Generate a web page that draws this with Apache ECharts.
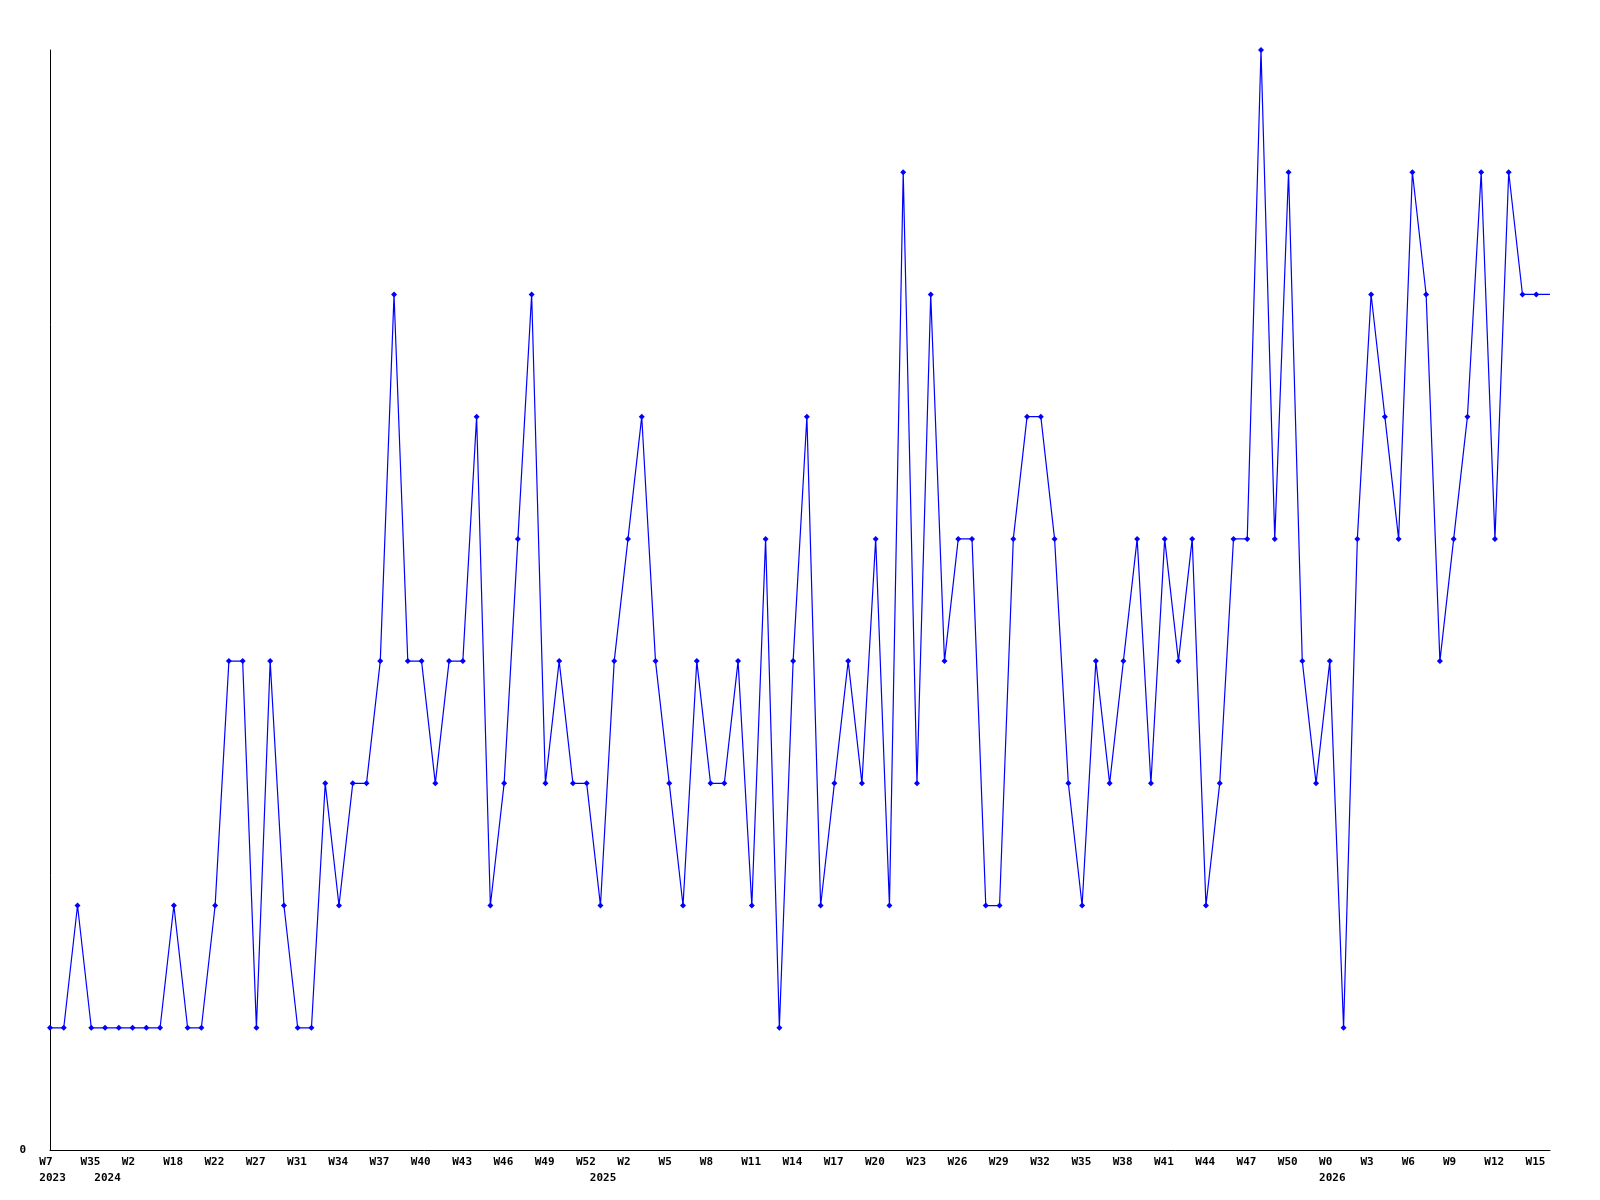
<!DOCTYPE html>
<html>
<head>
<meta charset="utf-8">
<script src="https://cdn.jsdelivr.net/npm/echarts@6/dist/echarts.min.js"></script>
<style>
  html, body { margin: 0; padding: 0; background: #ffffff; }
  #chart { width: 1600px; height: 1200px; }
</style>
</head>
<body>
<div id="chart"></div>
<script>
// Week categories (one per data point)
const weeks = [
  'W7','W9','W30','W35','W0','W1','W2','W8','W13','W18',
  'W19','W20','W22','W23','W25','W27','W28','W30','W31','W32',
  'W33','W34','W35','W36','W37','W38','W39','W40','W41','W42',
  'W43','W44','W45','W46','W47','W48','W49','W50','W51','W52',
  'W0','W1','W2','W3','W4','W5','W6','W7','W8','W9',
  'W10','W11','W12','W13','W14','W15','W16','W17','W18','W19',
  'W20','W21','W22','W23','W24','W25','W26','W27','W28','W29',
  'W30','W31','W32','W33','W34','W35','W36','W37','W38','W39',
  'W40','W41','W42','W43','W44','W45','W46','W47','W48','W49',
  'W50','W51','W52','W0','W1','W2','W3','W4','W5','W6',
  'W7','W8','W9','W10','W11','W12','W13','W14','W15','W16'
];

// Counts per week
const counts = [
  1,1,2,1,1,1,1,1,1,2,
  1,1,2,4,4,1,4,2,1,1,
  3,2,3,3,4,7,4,4,3,4,
  4,6,2,3,5,7,3,4,3,3,
  2,4,5,6,4,3,2,4,3,3,
  4,2,5,1,4,6,2,3,4,3,
  5,2,8,3,7,4,5,5,2,2,
  5,6,6,5,3,2,4,3,4,5,
  3,5,4,5,2,3,5,5,9,5,
  8,4,3,4,1,5,7,6,5,8,
  7,4,5,6,8,5,8,7,7,7
];

// Year labels: [category index, label]
const yearMarks = [[0, '2023'], [4, '2024'], [40, '2025'], [93, '2026']];

// Y axis ticks
const yMin = 0;
const yMax = 9;

const yearAt = {};
yearMarks.forEach(function (m) { yearAt[m[0]] = m[1]; });

const seriesData = counts.map(function (v, i) {
  return i === counts.length - 1 ? { value: v, symbol: 'none' } : v;
});

const FONT = 'DejaVu Sans Mono';
const labelRich = {
  a: { width: 21.4, align: 'left', fontFamily: FONT, fontWeight: 'bold', fontSize: 11, color: '#000' }
};

const chart = echarts.init(document.getElementById('chart'), null, { renderer: 'canvas' });
chart.setOption({
  animation: false,
  backgroundColor: '#ffffff',
  grid: { left: 50, right: 50, top: 50, bottom: 50, containLabel: false },
  xAxis: [
    {
      type: 'category',
      data: weeks,
      boundaryGap: false,
      position: 'bottom',
      axisLine: { show: true, lineStyle: { color: '#000', width: 1 } },
      axisTick: { show: false },
      splitLine: { show: false },
      axisLabel: {
        interval: 2,
        margin: 7,
        align: 'center',
        formatter: function (v) { return '{a|' + v + '}'; },
        rich: labelRich
      }
    },
    {
      type: 'category',
      data: weeks,
      boundaryGap: false,
      position: 'bottom',
      axisLine: { show: false },
      axisTick: { show: false },
      splitLine: { show: false },
      axisLabel: {
        interval: function (idx) { return yearAt[idx] !== undefined; },
        margin: 22.5,
        align: 'center',
        formatter: function (v, idx) { return '{a|' + (yearAt[idx] || '') + '}'; },
        rich: labelRich
      }
    }
  ],
  yAxis: {
    type: 'value',
    min: yMin,
    max: yMax,
    interval: yMax - yMin,
    axisLine: { show: true, lineStyle: { color: '#000', width: 1 } },
    axisTick: { show: false },
    splitLine: { show: false },
    axisLabel: {
      margin: 24,
      fontFamily: FONT,
      fontWeight: 'bold',
      fontSize: 11,
      color: '#000',
      formatter: function (v) { return v === yMin ? String(v) : ''; }
    }
  },
  series: [{
    type: 'line',
    data: seriesData,
    xAxisIndex: 0,
    symbol: 'diamond',
    symbolSize: 6,
    showSymbol: true,
    showAllSymbol: true,
    lineStyle: { color: '#0000ff', width: 1.2 },
    itemStyle: { color: '#0000ff' },
    emphasis: { disabled: true }
  }]
});
</script>
</body>
</html>
